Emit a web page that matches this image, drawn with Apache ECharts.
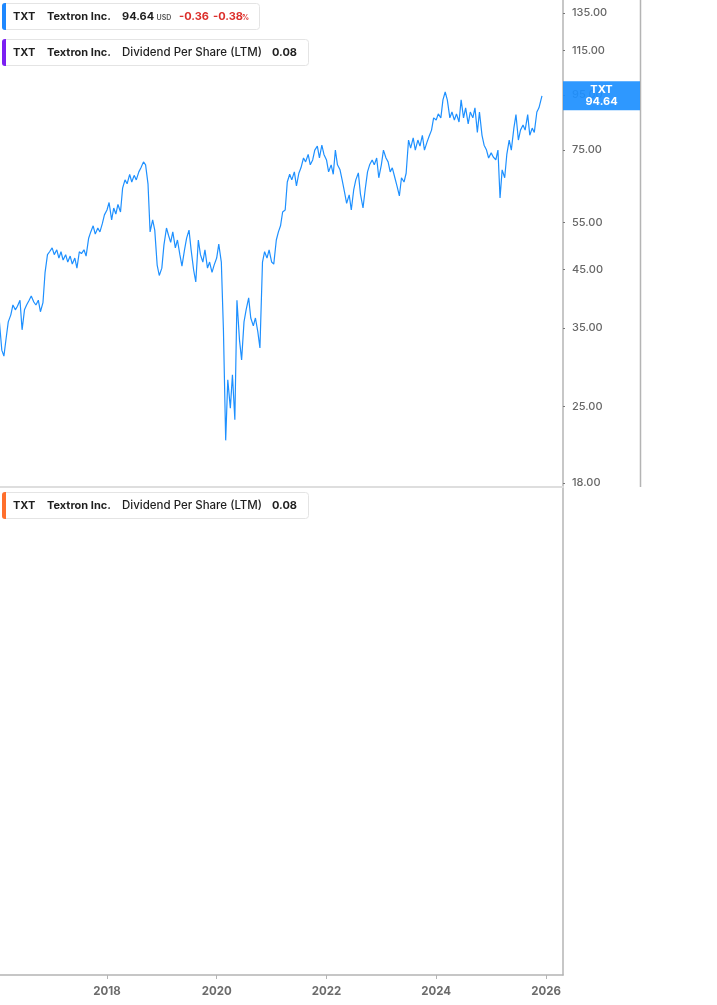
<!DOCTYPE html>
<html><head><meta charset="utf-8">
<script src="https://cdn.jsdelivr.net/npm/echarts@6/dist/echarts.min.js"></script>
<style>html,body{margin:0;padding:0;background:#fff}#c{width:717px;height:1005px}</style>
</head><body><div id="c"></div>
<script>
// ---- data (semi-monthly closes) ----
const dates = [
'2016-01-15','2016-02-01','2016-02-15','2016-03-01','2016-03-15','2016-04-01','2016-04-15','2016-05-01','2016-05-15','2016-06-01','2016-06-15','2016-07-01','2016-07-15','2016-08-01','2016-08-15','2016-09-01','2016-09-15','2016-10-01','2016-10-15','2016-11-01','2016-11-15','2016-12-01','2016-12-15',
'2017-01-01','2017-01-15','2017-02-01','2017-02-15','2017-03-01','2017-03-15','2017-04-01','2017-04-15','2017-05-01','2017-05-15','2017-06-01','2017-06-15','2017-07-01','2017-07-15','2017-08-01','2017-08-15','2017-09-01','2017-09-15','2017-10-01','2017-10-15','2017-11-01','2017-11-15','2017-12-01','2017-12-15',
'2018-01-01','2018-01-15','2018-02-01','2018-02-15','2018-03-01','2018-03-15','2018-04-01','2018-04-15','2018-05-01','2018-05-15','2018-06-01','2018-06-15','2018-07-01','2018-07-15','2018-08-01','2018-08-15','2018-09-01','2018-09-15','2018-10-01','2018-10-15','2018-11-01','2018-11-15','2018-12-01','2018-12-15',
'2019-01-01','2019-01-15','2019-02-01','2019-02-15','2019-03-01','2019-03-15','2019-04-01','2019-04-15','2019-05-01','2019-05-15','2019-06-01','2019-06-15','2019-07-01','2019-07-15','2019-08-01','2019-08-15','2019-09-01','2019-09-15','2019-10-01','2019-10-15','2019-11-01','2019-11-15','2019-12-01','2019-12-15',
'2020-01-01','2020-01-15','2020-02-01','2020-02-15','2020-03-01','2020-03-15','2020-04-01','2020-04-15','2020-05-01','2020-05-15','2020-06-01','2020-06-15','2020-07-01','2020-07-15','2020-08-01','2020-08-15','2020-09-01','2020-09-15','2020-10-01','2020-10-15','2020-11-01','2020-11-15','2020-12-01','2020-12-15',
'2021-01-01','2021-01-15','2021-02-01','2021-02-15','2021-03-01','2021-03-15','2021-04-01','2021-04-15','2021-05-01','2021-05-15','2021-06-01','2021-06-15','2021-07-01','2021-07-15','2021-08-01','2021-08-15','2021-09-01','2021-09-15','2021-10-01','2021-10-15','2021-11-01','2021-11-15','2021-12-01','2021-12-15',
'2022-01-01','2022-01-15','2022-02-01','2022-02-15','2022-03-01','2022-03-15','2022-04-01','2022-04-15','2022-05-01','2022-05-15','2022-06-01','2022-06-15','2022-07-01','2022-07-15','2022-08-01','2022-08-15','2022-09-01','2022-09-15','2022-10-01','2022-10-15','2022-11-01','2022-11-15','2022-12-01','2022-12-15',
'2023-01-01','2023-01-15','2023-02-01','2023-02-15','2023-03-01','2023-03-15','2023-04-01','2023-04-15','2023-05-01','2023-05-15','2023-06-01','2023-06-15','2023-07-01','2023-07-15','2023-08-01','2023-08-15','2023-09-01','2023-09-15','2023-10-01','2023-10-15','2023-11-01','2023-11-15','2023-12-01','2023-12-15',
'2024-01-01','2024-01-15','2024-02-01','2024-02-15','2024-03-01','2024-03-15','2024-04-01','2024-04-15','2024-05-01','2024-05-15','2024-06-01','2024-06-15','2024-07-01','2024-07-15','2024-08-01','2024-08-15','2024-09-01','2024-09-15','2024-10-01','2024-10-15','2024-11-01','2024-11-15','2024-12-01','2024-12-15',
'2025-01-01','2025-01-15','2025-02-01','2025-02-15','2025-03-01','2025-03-15','2025-04-01','2025-04-15','2025-05-01','2025-05-15','2025-06-01','2025-06-15','2025-07-01','2025-07-15','2025-08-01','2025-08-15','2025-09-01','2025-09-15','2025-10-01','2025-10-15','2025-11-01','2025-11-15','2025-12-05'
];
const prices = [
36.2,31.8,31.0,33.5,35.9,37.0,38.6,37.8,38.4,39.4,34.7,37.8,38.6,39.4,40.1,39.1,38.6,39.4,37.5,39.0,44.4,47.9,48.5,
49.3,47.9,48.9,47.2,48.5,46.8,47.9,46.4,47.6,46.0,47.2,45.2,48.5,48.1,48.9,47.6,51.4,52.8,54.2,52.3,53.7,52.8,54.7,56.8,
58.0,59.9,55.6,58.5,57.0,59.4,57.5,63.7,66.0,64.9,67.6,65.4,67.3,66.0,68.3,69.5,71.3,70.4,64.9,52.8,55.6,53.2,45.8,43.8,
45.2,49.9,53.7,52.0,50.5,52.8,49.3,51.0,47.9,45.6,48.9,51.4,53.2,48.9,44.8,42.6,51.0,47.9,46.4,48.9,45.2,46.4,44.4,45.8,
47.2,50.1,46.4,34.7,21.6,28.0,24.8,28.6,23.6,39.4,33.2,30.5,35.9,37.8,39.8,36.5,35.3,36.5,34.4,32.1,46.4,48.5,47.2,48.9,
46.4,46.0,51.0,52.8,54.2,57.5,58.0,65.4,67.6,66.0,68.3,64.3,67.9,69.5,72.5,71.3,73.6,70.4,71.9,75.0,76.3,72.5,76.6,73.6,
71.9,68.3,70.4,67.6,75.0,70.4,68.9,66.0,62.6,59.7,61.9,58.0,63.2,66.0,68.0,62.1,58.5,63.2,68.3,70.4,71.9,70.4,72.5,66.6,
70.4,75.0,72.5,71.3,68.3,69.5,66.6,64.3,61.6,66.6,65.4,67.9,78.3,75.6,79.0,75.0,78.3,76.3,79.9,75.0,77.6,79.6,81.7,86.1,
85.3,87.6,86.1,93.0,96.2,93.0,86.1,88.3,85.3,87.6,84.6,93.0,86.1,89.9,83.9,88.3,86.1,89.9,80.9,88.3,79.9,76.6,75.0,72.5,
74.1,72.8,71.9,75.0,61.1,68.9,66.6,73.6,78.3,75.0,82.4,87.3,78.3,81.7,83.5,81.7,87.3,79.9,82.4,80.9,88.3,89.9,94.64
];
const yTickPrices = [18, 25, 35, 45, 55, 75, 95, 115, 135];
const xTickYears = [2018, 2020, 2022, 2024, 2026];
const ticker = 'TXT', company = 'Textron Inc.';
const lastPriceText = '94.64', currency = 'USD', changeText = '-0.36', changePctText = '-0.38';
const dividendLabel = 'Dividend Per Share (LTM)', dividendValue = '0.08';

// ---- chart ----
const LINE = '#1E90FF', AXIS = '#b4b4b4';
const chart = echarts.init(document.getElementById('c'), null, {renderer: 'canvas'});
const seriesData = dates.map((d, i) => [Date.parse(d), Math.log(prices[i])]);
const yTickLn = yTickPrices.map(Math.log);
const yearTs = xTickYears.map(y => Date.UTC(y, 0, 1));
const xMin = Date.UTC(2016, 0, 20), xMax = Date.UTC(2026, 3, 24);
const yMin = 2.8727, yMax = 4.9610;

function legendBox(y, w, color, parts) {
  const els = [
    {type: 'rect', shape: {x: 2.5, y: y + 0.5, width: w, height: 26, r: 3}, style: {fill: '#fff', stroke: '#e4e4e4', lineWidth: 1}, z: 100},
    {type: 'rect', shape: {x: 2, y: y, width: 4, height: 27, r: [3, 0, 0, 3]}, style: {fill: color}, z: 101}
  ];
  parts.forEach(p => els.push({type: 'text', x: p.x, y: y + 13.5 + (p.dy || 0), z: 102,
    style: {text: p.t, font: p.f, fill: p.c || '#1f1f1f', verticalAlign: 'middle', align: 'left'}}));
  return els;
}
const B = '700 11px Inter', R = '500 11.5px Inter';
function baseGraphics() {
  return [
    {type: 'line', shape: {x1: 640.5, y1: 0, x2: 640.5, y2: 487}, style: {stroke: AXIS, lineWidth: 1.5}, z: 50},
    ...legendBox(3, 257, '#1E88FF', [
      {x: 13, t: ticker, f: B}, {x: 47, t: company, f: B}, {x: 122, t: lastPriceText, f: B},
      {x: 156.5, t: currency, f: '600 7px Inter', c: '#555', dy: 1.5},
      {x: 179, t: changeText, f: B, c: '#dc2f2b'}, {x: 213, t: changePctText, f: B, c: '#dc2f2b'},
      {x: 242, t: '%', f: '700 7px Inter', c: '#dc2f2b', dy: 1.5}
    ]),
    ...legendBox(39, 306, '#7B1FF2', [
      {x: 13, t: ticker, f: B}, {x: 47, t: company, f: B}, {x: 122, t: dividendLabel, f: R}, {x: 272, t: dividendValue, f: B}
    ]),
    ...legendBox(492, 306, '#FF6F2C', [
      {x: 13, t: ticker, f: B}, {x: 47, t: company, f: B}, {x: 122, t: dividendLabel, f: R}, {x: 272, t: dividendValue, f: B}
    ])
  ];
}

chart.setOption({
  animation: false,
  backgroundColor: '#fff',
  grid: [
    {left: 0, top: 0, width: 563, height: 487},
    {left: 0, top: 487, width: 563, height: 488}
  ],
  xAxis: [
    {gridIndex: 0, type: 'value', min: xMin, max: xMax,
      axisLine: {show: true, onZero: false, lineStyle: {color: '#dedede', width: 2}},
      axisTick: {show: false}, axisLabel: {show: false}, splitLine: {show: false}},
    {gridIndex: 1, type: 'value', min: xMin, max: xMax,
      axisLine: {show: true, onZero: false, lineStyle: {color: AXIS, width: 1.5}},
      axisTick: {show: true, customValues: yearTs, length: 4, lineStyle: {color: AXIS}},
      axisLabel: {customValues: yearTs, formatter: v => String(new Date(v).getUTCFullYear()),
        color: '#6b6b6b', fontFamily: 'Inter', fontWeight: 700, fontSize: 11.5, margin: 11},
      splitLine: {show: false}}
  ],
  yAxis: [
    {gridIndex: 0, type: 'value', position: 'right', min: yMin, max: yMax,
      axisLine: {show: true, onZero: false, lineStyle: {color: AXIS, width: 1.5}},
      axisTick: {show: true, customValues: yTickLn, length: 2, lineStyle: {color: '#777'}},
      axisLabel: {customValues: yTickLn, formatter: v => Math.exp(v).toFixed(2),
        color: '#666', fontFamily: 'Inter', fontWeight: 500, fontSize: 11, margin: 9},
      splitLine: {show: false}},
    {gridIndex: 1, type: 'value', position: 'right', min: 0, max: 1,
      axisLine: {show: true, onZero: false, lineStyle: {color: AXIS, width: 1.5}},
      axisTick: {show: false}, axisLabel: {show: false}, splitLine: {show: false}}
  ],
  series: [
    {name: ticker, type: 'line', xAxisIndex: 0, yAxisIndex: 0, data: seriesData,
      showSymbol: false, symbol: 'none', lineStyle: {color: LINE, width: 1.2}, z: 5}
  ],
  graphic: baseGraphics()
});

// price tag at last value, placed through the axis scale
const last = seriesData[seriesData.length - 1];
const py = chart.convertToPixel({gridIndex: 0}, last)[1];
chart.setOption({
  graphic: baseGraphics().concat([
    {type: 'rect', shape: {x: 563, y: py - 14.5, width: 77, height: 29}, style: {fill: 'rgba(30,144,255,0.93)'}, z: 60},
    {type: 'text', x: 601.5, y: py - 6.5, z: 61, style: {text: ticker, font: '700 11px Inter', fill: '#fff', align: 'center', verticalAlign: 'middle'}},
    {type: 'text', x: 601.5, y: py + 5.5, z: 61, style: {text: lastPriceText, font: '700 11px Inter', fill: '#fff', align: 'center', verticalAlign: 'middle'}}
  ])
}, {replaceMerge: ['graphic']});
</script>
</body></html>
